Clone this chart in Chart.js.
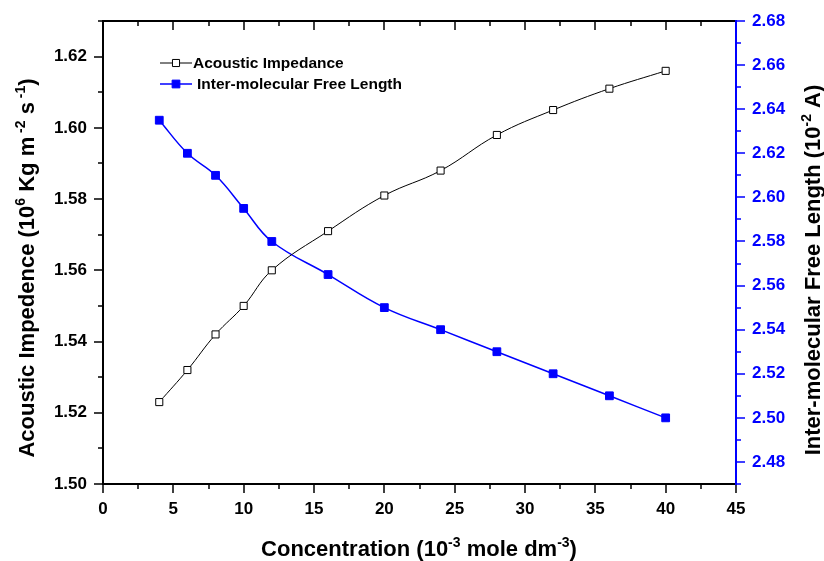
<!DOCTYPE html>
<html>
<head>
<meta charset="utf-8">
<script src="https://cdn.jsdelivr.net/npm/chart.js@4/dist/chart.umd.min.js"></script>
<style>
  body { margin: 0; background: #fff; }
  canvas { display: block; }
</style>
</head>
<body>
<canvas id="chart" width="824" height="561"></canvas>
<script>
// data
const concentration = [4, 6, 8, 10, 12, 16, 20, 24, 28, 32, 36, 40];
const impedance = [1.523, 1.532, 1.542, 1.550, 1.560, 1.571, 1.581, 1.588, 1.598, 1.605, 1.611, 1.616];
const freeLength = [2.635, 2.620, 2.610, 2.595, 2.580, 2.565, 2.550, 2.540, 2.530, 2.520, 2.510, 2.500];

const xTicks = [0, 5, 10, 15, 20, 25, 30, 35, 40, 45];
const leftTicks = [1.50, 1.52, 1.54, 1.56, 1.58, 1.60, 1.62];
const rightTicks = [2.48, 2.50, 2.52, 2.54, 2.56, 2.58, 2.60, 2.62, 2.64, 2.66, 2.68];

const BLUE = "#0000ff";
const FONT = '"Liberation Sans", Arial, sans-serif';
const tickFont = { family: FONT, size: 17, weight: "bold" };

// draws text with superscript parts, centered on (0,0) along the baseline
function drawRich(ctx, parts, size) {
  const supSize = Math.round(size * 0.62);
  let total = 0;
  parts.forEach(p => {
    ctx.font = "bold " + (p.sup ? supSize : size) + "px " + FONT;
    p.w = ctx.measureText(p.t).width;
    total += p.w;
  });
  let x = -total / 2;
  ctx.textAlign = "left";
  ctx.textBaseline = "alphabetic";
  parts.forEach(p => {
    ctx.font = "bold " + (p.sup ? supSize : size) + "px " + FONT;
    ctx.fillText(p.t, x, p.sup ? -size * 0.42 : 0);
    x += p.w;
  });
}

function mids(ticks) {
  const out = [];
  for (let i = 0; i < ticks.length - 1; i++) out.push((ticks[i] + ticks[i + 1]) / 2);
  return out;
}

const axisDecor = {
  id: "axisDecor",
  afterDraw(chart) {
    const { ctx, chartArea: a, scales } = chart;
    const sx = scales.x, sy = scales.y, sy1 = scales.y1;
    ctx.save();

    // frame: left, bottom, top in black
    ctx.strokeStyle = "#000";
    ctx.lineWidth = 2;
    ctx.beginPath();
    ctx.moveTo(a.left, a.bottom + 1);
    ctx.lineTo(a.left, a.top);
    ctx.lineTo(a.right, a.top);
    ctx.moveTo(a.left - 1, a.bottom);
    ctx.lineTo(a.right, a.bottom);
    ctx.stroke();

    // x ticks: out on the bottom, in on the top
    ctx.lineWidth = 1.5;
    ctx.beginPath();
    xTicks.forEach(v => {
      const px = Math.round(sx.getPixelForValue(v));
      ctx.moveTo(px, a.bottom); ctx.lineTo(px, a.bottom + 9);
      ctx.moveTo(px, a.top); ctx.lineTo(px, a.top + 9);
    });
    mids(xTicks).forEach(v => {
      const px = Math.round(sx.getPixelForValue(v));
      ctx.moveTo(px, a.bottom); ctx.lineTo(px, a.bottom + 5);
      ctx.moveTo(px, a.top); ctx.lineTo(px, a.top + 5);
    });
    // left ticks
    leftTicks.forEach(v => {
      const py = Math.round(sy.getPixelForValue(v));
      ctx.moveTo(a.left, py); ctx.lineTo(a.left - 9, py);
    });
    mids(leftTicks).concat([1.63]).forEach(v => {
      const py = Math.round(sy.getPixelForValue(v));
      ctx.moveTo(a.left, py); ctx.lineTo(a.left - 5, py);
    });
    ctx.stroke();

    // right axis in blue
    ctx.strokeStyle = BLUE;
    ctx.lineWidth = 2;
    ctx.beginPath();
    ctx.moveTo(a.right, a.bottom + 1);
    ctx.lineTo(a.right, a.top - 1);
    ctx.stroke();
    ctx.lineWidth = 1.5;
    ctx.beginPath();
    rightTicks.forEach(v => {
      const py = Math.round(sy1.getPixelForValue(v));
      ctx.moveTo(a.right, py); ctx.lineTo(a.right + 9, py);
    });
    mids(rightTicks).concat([2.47]).forEach(v => {
      const py = Math.round(sy1.getPixelForValue(v));
      ctx.moveTo(a.right, py); ctx.lineTo(a.right + 5, py);
    });
    ctx.stroke();

    // axis titles
    ctx.fillStyle = "#000";
    ctx.save();
    ctx.translate(34, 268);
    ctx.rotate(-Math.PI / 2);
    drawRich(ctx, [
      { t: "Acoustic Impedence (10" }, { t: "6", sup: true }, { t: " Kg m" },
      { t: " -2", sup: true }, { t: " s" }, { t: " -1", sup: true }, { t: ")" }
    ], 22);
    ctx.restore();

    ctx.save();
    ctx.translate(820, 270);
    ctx.rotate(-Math.PI / 2);
    drawRich(ctx, [
      { t: "Inter-molecular Free Length (10" }, { t: "-2", sup: true }, { t: " A)" }
    ], 22);
    ctx.restore();

    ctx.save();
    ctx.translate(419, 556);
    drawRich(ctx, [
      { t: "Concentration (10" }, { t: "-3", sup: true }, { t: " mole dm" },
      { t: "-3", sup: true }, { t: ")" }
    ], 22);
    ctx.restore();

    // legend inside the plot
    const items = [
      { ds: chart.data.datasets[0], y: 63, tx: 193 },
      { ds: chart.data.datasets[1], y: 84, tx: 197 }
    ];
    items.forEach(it => {
      ctx.strokeStyle = it.ds.borderColor;
      ctx.lineWidth = it.ds.borderWidth;
      ctx.beginPath();
      ctx.moveTo(160, it.y); ctx.lineTo(192, it.y);
      ctx.stroke();
      ctx.fillStyle = it.ds.pointBackgroundColor;
      ctx.strokeStyle = it.ds.pointBorderColor;
      ctx.lineWidth = 1;
      Chart.helpers.drawPoint(ctx, { pointStyle: "rect", radius: it.ds.pointRadius, borderWidth: 1 }, 176, it.y);
      ctx.fillStyle = "#000";
      ctx.font = "bold 15.5px " + FONT;
      ctx.textAlign = "left";
      ctx.textBaseline = "middle";
      ctx.fillText(it.ds.label, it.tx, it.y + 1);
    });

    ctx.restore();
  }
};

// no extra room for labels hanging past the ends of the axes
function noOverhang(s) {
  s.paddingTop = 0;
  s.paddingBottom = 0;
  s.paddingLeft = 0;
  s.paddingRight = 0;
}

const ctx = document.getElementById("chart").getContext("2d");
new Chart(ctx, {
  type: "line",
  data: {
    datasets: [
      {
        label: "Acoustic Impedance",
        data: concentration.map((c, i) => ({ x: c, y: impedance[i] })),
        yAxisID: "y",
        borderColor: "#000",
        borderWidth: 1,
        pointStyle: "rect",
        pointRadius: 5,
        pointBackgroundColor: "#fff",
        pointBorderColor: "#000",
        pointBorderWidth: 1,
        tension: 0.4,
        fill: false
      },
      {
        label: "Inter-molecular Free Length",
        data: concentration.map((c, i) => ({ x: c, y: freeLength[i] })),
        yAxisID: "y1",
        borderColor: BLUE,
        borderWidth: 1.5,
        pointStyle: "rect",
        pointRadius: 5.5,
        pointBackgroundColor: BLUE,
        pointBorderColor: BLUE,
        pointBorderWidth: 1,
        tension: 0.4,
        fill: false
      }
    ]
  },
  options: {
    responsive: false,
    animation: false,
    devicePixelRatio: 1,
    layout: { padding: { top: 21, left: 0, right: 0, bottom: 0 } },
    plugins: { legend: { display: false }, tooltip: { enabled: false } },
    scales: {
      x: {
        type: "linear",
        min: 0,
        max: 45,
        afterBuildTicks: s => { s.ticks = xTicks.map(v => ({ value: v })); },
        afterFit: s => { s.height = 77; noOverhang(s); },
        grid: { display: false, drawTicks: false },
        border: { display: false },
        ticks: { font: tickFont, color: "#000", padding: 15, maxRotation: 0, autoSkip: false }
      },
      y: {
        position: "left",
        min: 1.50,
        max: 1.63,
        afterBuildTicks: s => { s.ticks = leftTicks.map(v => ({ value: v })); },
        afterFit: s => { s.width = 103; noOverhang(s); },
        grid: { display: false, drawTicks: false },
        border: { display: false },
        ticks: { font: tickFont, color: "#000", padding: 16, autoSkip: false, callback: v => v.toFixed(2) }
      },
      y1: {
        position: "right",
        min: 2.47,
        max: 2.68,
        afterBuildTicks: s => { s.ticks = rightTicks.map(v => ({ value: v })); },
        afterFit: s => { s.width = 88; noOverhang(s); },
        grid: { display: false, drawTicks: false },
        border: { display: false },
        ticks: { font: tickFont, color: BLUE, padding: 16, autoSkip: false, callback: v => v.toFixed(2) }
      }
    }
  },
  plugins: [axisDecor]
});
</script>
</body>
</html>
